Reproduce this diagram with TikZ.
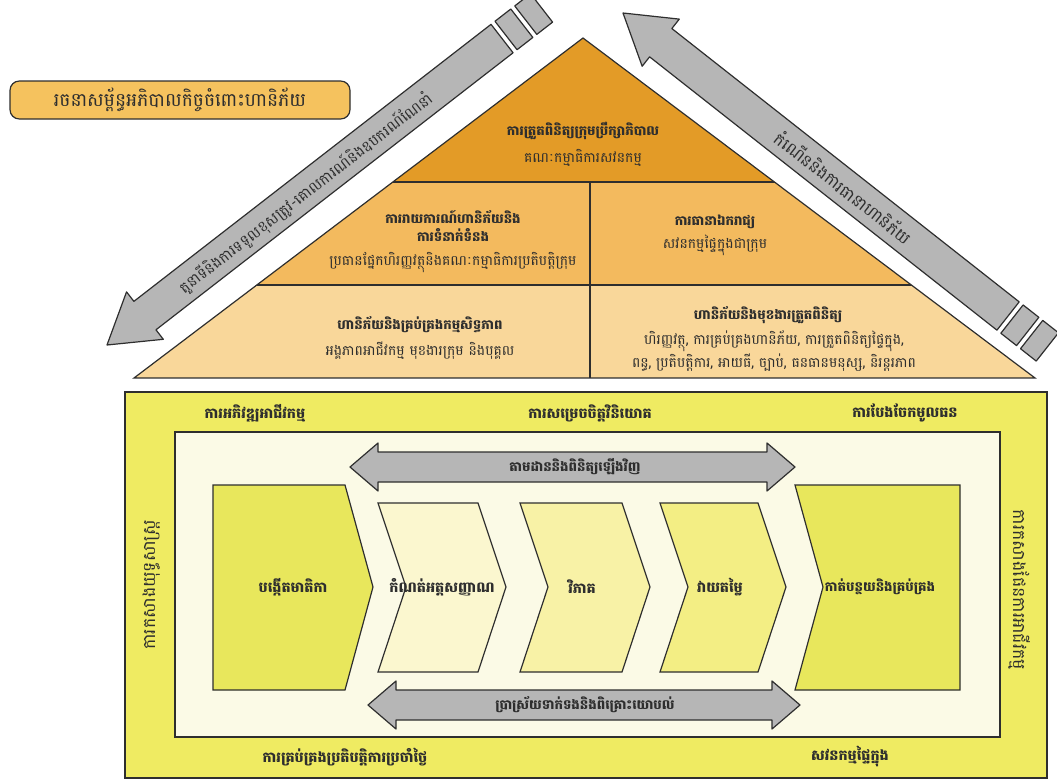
\documentclass[tikz,border=0pt]{standalone}
\usepackage{fontspec}
\newfontfamily\km[Script=Khmer]{Battambang}
\definecolor{triTop}{HTML}{E39B27}
\definecolor{triMid}{HTML}{F3BA5E}
\definecolor{triBot}{HTML}{F9D79A}
\definecolor{titleFill}{HTML}{F5C25E}
\definecolor{arrowGray}{HTML}{B6B6B6}
\definecolor{lineDark}{HTML}{2E2E2E}
\definecolor{outerYellow}{HTML}{EFEB62}
\definecolor{innerCream}{HTML}{FBFAE6}
\definecolor{blockGreen}{HTML}{E8E75C}
\definecolor{chevA}{HTML}{FBF7CF}
\definecolor{chevB}{HTML}{F8F2A6}
\definecolor{chevC}{HTML}{F3EE84}
\begin{document}
\begin{tikzpicture}[x=0.75pt,y=-0.75pt,
  every node/.style={inner sep=0pt, align=center, text=lineDark},
  txt/.style={font=\km\fontsize{10.5}{14}\selectfont},
  hd/.style={font=\km\bfseries\fontsize{10}{14}\selectfont},
  hdl/.style={font=\km\bfseries\fontsize{10.8}{14}\selectfont},
  side/.style={font=\km\fontsize{13}{16}\selectfont},
  frame/.style={draw=lineDark, line width=0.9pt},
  grayarrow/.style={draw=lineDark, line width=0.9pt, fill=arrowGray, line join=round},
]
\useasboundingbox (0,0) rectangle (1057,782);

% ---- title box ----
\node[frame, fill=titleFill, rounded corners=7pt,
      minimum width=340*0.75pt, minimum height=38*0.75pt,
      font=\km\fontsize{14}{16}\selectfont] (title) at (180,100)
      {រចនាសម្ព័ន្ធអភិបាលកិច្ចចំពោះហានិភ័យ};

% ---- governance triangle ----
\coordinate (apex) at (583,38);
\coordinate (bl) at (134,378);
\coordinate (br) at (1035,378);
\begin{scope}
  \clip (apex) -- (bl) -- (br) -- cycle;
  \fill[triTop] (0,0) rectangle (1057,182);
  \fill[triMid] (0,182) rectangle (1057,285);
  \fill[triBot] (0,285) rectangle (1057,378);
  \draw[lineDark, line width=0.8pt] (0,182) -- (1057,182);
  \draw[lineDark, line width=0.8pt] (0,285) -- (1057,285);
  \draw[lineDark, line width=0.8pt] (590,182) -- (590,378);
\end{scope}
\draw[frame] (apex) -- (bl) -- (br) -- cycle;

\node[hd] (boardH) at (583,131) {ការត្រួតពិនិត្យក្រុមប្រឹក្សាភិបាល};
\node[txt] (boardT) at (583,158) {គណៈកម្មាធិការសវនកម្ម};

\node[hd] (repH) at (453,226) {ការរាយការណ៍ហានិភ័យនិង\\ការទំនាក់ទំនង};
\node[txt] (repT) at (453,263) {ប្រធានផ្នែកហិរញ្ញវត្ថុនិងគណៈកម្មាធិការប្រតិបត្តិក្រុម};

\node[hd] (assH) at (715,222) {ការធានាឯករាជ្យ};
\node[txt] (assT) at (715,245) {សវនកម្មផ្ទៃក្នុងជាក្រុម};

\node[hd] (ownH) at (420,325) {ហានិភ័យនិងគ្រប់គ្រងកម្មសិទ្ធភាព};
\node[txt] (ownT) at (420,351) {អង្គភាពអាជីវកម្ម មុខងារក្រុម និងបុគ្គល};

\node[hd] (funH) at (768,315) {ហានិភ័យនិងមុខងារត្រួតពិនិត្យ};
\node[txt] (funT) at (774,351) {ហិរញ្ញវត្ថុ, ការគ្រប់គ្រងហានិភ័យ, ការត្រួតពិនិត្យផ្ទៃក្នុង,\\ពន្ធ, ប្រតិបត្តិការ, អាយធី, ច្បាប់, ធនធានមនុស្ស, និរន្តរភាព};

% ---- diagonal arrow, left side (pointing down-left) ----
\begin{scope}[shift={(107,345)}, rotate=37.8]
  \draw[grayarrow] (0,0) -- (48,-30) -- (48,-18) -- (500,-18)
        -- (500,18) -- (48,18) -- (48,30) -- cycle;
  \draw[grayarrow] (505,-18) rectangle (525,18);
  \draw[grayarrow] (530,-18) rectangle (550,18);
  \node[font=\km\fontsize{11.3}{14}\selectfont, rotate=37.8] (roles) at (250,2)
    {តួនាទីនិងការទទួលខុសត្រូវ-គោលការណ៍និងឧបករណ៍ណែនាំ};
\end{scope}

% ---- diagonal arrow, right side (pointing up-left) ----
\begin{scope}[shift={(623,13)}, rotate=-38.2]
  \draw[grayarrow] (0,0) -- (48,-30) -- (48,-18) -- (490,-18)
        -- (490,18) -- (48,18) -- (48,30) -- cycle;
  \draw[grayarrow] (495,-18) rectangle (515,18);
  \draw[grayarrow] (520,-18) rectangle (540,18);
  \node[font=\km\fontsize{12.5}{14}\selectfont, rotate=-38.2] (growth) at (281,0)
    {កំណើននិងការធានាហានិភ័យ};
\end{scope}

% ---- risk management framework ----
\draw[frame, fill=outerYellow] (125,392) rectangle (1047,778);
\draw[frame, fill=innerCream] (175,432) rectangle (1000,737);

\node[hdl] (bizdev) at (255,413) {ការអភិវឌ្ឍអាជីវកម្ម};
\node[hdl] (invest) at (590,413) {ការសម្រេចចិត្តវិនិយោគ};
\node[hdl] (capital) at (905,413) {ការបែងចែកមូលធន};
\node[hdl] (daily) at (345,757) {ការគ្រប់គ្រងប្រតិបត្តិការប្រចាំថ្ងៃ};
\node[hdl] (audit) at (850,757) {សវនកម្មផ្ទៃក្នុង};
\node[side, rotate=90] (strategy) at (152,585) {ការកសាងយុទ្ធសាស្ត្រ};
\node[side, rotate=-90] (bizplan) at (1020,590) {ការកសាងផែនការអាជីវកម្ម};

% process steps
\draw[frame, fill=blockGreen] (213,485) -- (345,485) -- (373,587)
      -- (345,690) -- (213,690) -- cycle;
\draw[frame, fill=chevA] (378,503) -- (478,503) -- (506,587) -- (478,672)
      -- (378,672) -- (406,587) -- cycle;
\draw[frame, fill=chevB] (520,503) -- (622,503) -- (650,587) -- (622,672)
      -- (520,672) -- (548,587) -- cycle;
\draw[frame, fill=chevC] (660,503) -- (758,503) -- (786,587) -- (758,672)
      -- (660,672) -- (688,587) -- cycle;
\draw[frame, fill=blockGreen] (795,485) -- (960,485) -- (960,690)
      -- (795,690) -- (823,587) -- cycle;

\node[hdl] (s1) at (293,587) {បង្កើតមាតិកា};
\node[hdl] (s2) at (442,587) {កំណត់អត្តសញ្ញាណ};
\node[hdl] (s3) at (582,587) {វិភាគ};
\node[hdl] (s4) at (720,587) {វាយតម្លៃ};
\node[hd] (s5) at (880,587) {កាត់បន្ថយនិងគ្រប់គ្រង};

% two-headed arrows
\draw[grayarrow] (350,467) -- (378,443) -- (378,452) -- (767,452) -- (767,443)
      -- (795,467) -- (767,491) -- (767,482) -- (378,482) -- (378,491) -- cycle;
\node[hd] (monitor) at (575,467) {តាមដាននិងពិនិត្យឡើងវិញ};
\draw[grayarrow] (368,705) -- (396,681) -- (396,690) -- (772,690) -- (772,681)
      -- (800,705) -- (772,729) -- (772,720) -- (396,720) -- (396,729) -- cycle;
\node[hd] (consult) at (585,705) {ប្រាស្រ័យទាក់ទងនិងពិគ្រោះយោបល់};
\end{tikzpicture}
\end{document}
